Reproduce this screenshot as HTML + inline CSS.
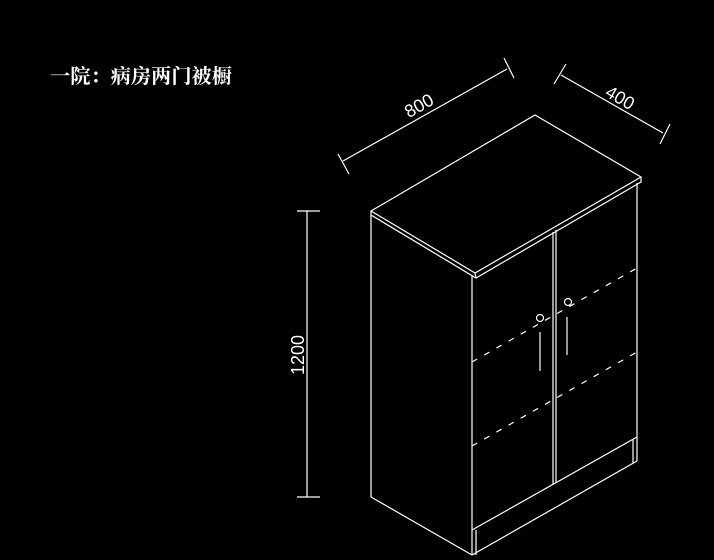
<!DOCTYPE html>
<html><head><meta charset="utf-8"><style>
html,body{margin:0;padding:0;background:#000;}
svg{display:block}
</style></head><body>
<svg width="714" height="560" viewBox="0 0 714 560" xmlns="http://www.w3.org/2000/svg">
<rect width="714" height="560" fill="#000"/>
<text x="50" y="83" fill="#fff" font-family="Liberation Serif, Noto Serif CJK SC, serif" font-size="20" font-weight="bold" textLength="182" lengthAdjust="spacingAndGlyphs">一院：病房两门被橱</text>
<g stroke="#fff" stroke-width="1.2" fill="none">
<polygon points="535,115 641,177 475,273 371,211"/>
<polyline points="371,211 371,215 476,278 641,182 641,177"/>
<line x1="475" y1="273" x2="476" y2="278"/>
<line x1="371" y1="215" x2="371" y2="497"/>
<line x1="472" y1="276" x2="472" y2="555"/>
<line x1="637" y1="183" x2="637" y2="461"/>
<line x1="371" y1="497" x2="472" y2="555"/>
<line x1="472" y1="555" x2="637" y2="461"/>
<line x1="472" y1="530" x2="637" y2="437"/>
<line x1="476" y1="530" x2="476" y2="555"/>
<line x1="633" y1="439" x2="633" y2="463"/>
<line x1="553" y1="232" x2="553" y2="484"/>
<line x1="556" y1="230" x2="556" y2="483"/>
<line x1="472" y1="362" x2="637" y2="268" stroke-dasharray="6,8"/>
<line x1="472" y1="446" x2="637" y2="352" stroke-dasharray="6,8"/>
<circle cx="540" cy="318" r="3.5"/>
<line x1="540" y1="332" x2="540" y2="371"/>
<circle cx="568" cy="302" r="3.5"/>
<line x1="567" y1="317" x2="567" y2="355"/>
<line x1="343" y1="161" x2="507" y2="69"/>
<line x1="338" y1="154" x2="349" y2="174"/>
<line x1="504" y1="58" x2="514" y2="78"/>
<line x1="561" y1="75" x2="663" y2="133"/>
<line x1="566" y1="64" x2="554" y2="84"/>
<line x1="670" y1="124" x2="660" y2="144"/>
<line x1="307" y1="211" x2="307" y2="497"/>
<line x1="297" y1="211" x2="320" y2="211"/>
<line x1="297" y1="497" x2="320" y2="497"/>
</g>
<g fill="#fff" font-family="Liberation Sans, sans-serif" font-size="18">
<text x="0" y="0" text-anchor="middle" transform="translate(422,111) rotate(-29.5)">800</text>
<text x="0" y="0" text-anchor="middle" transform="translate(617,103) rotate(30)">400</text>
<text x="0" y="0" text-anchor="middle" transform="translate(304,355) rotate(-90)">1200</text>
</g>
</svg>
</body></html>
